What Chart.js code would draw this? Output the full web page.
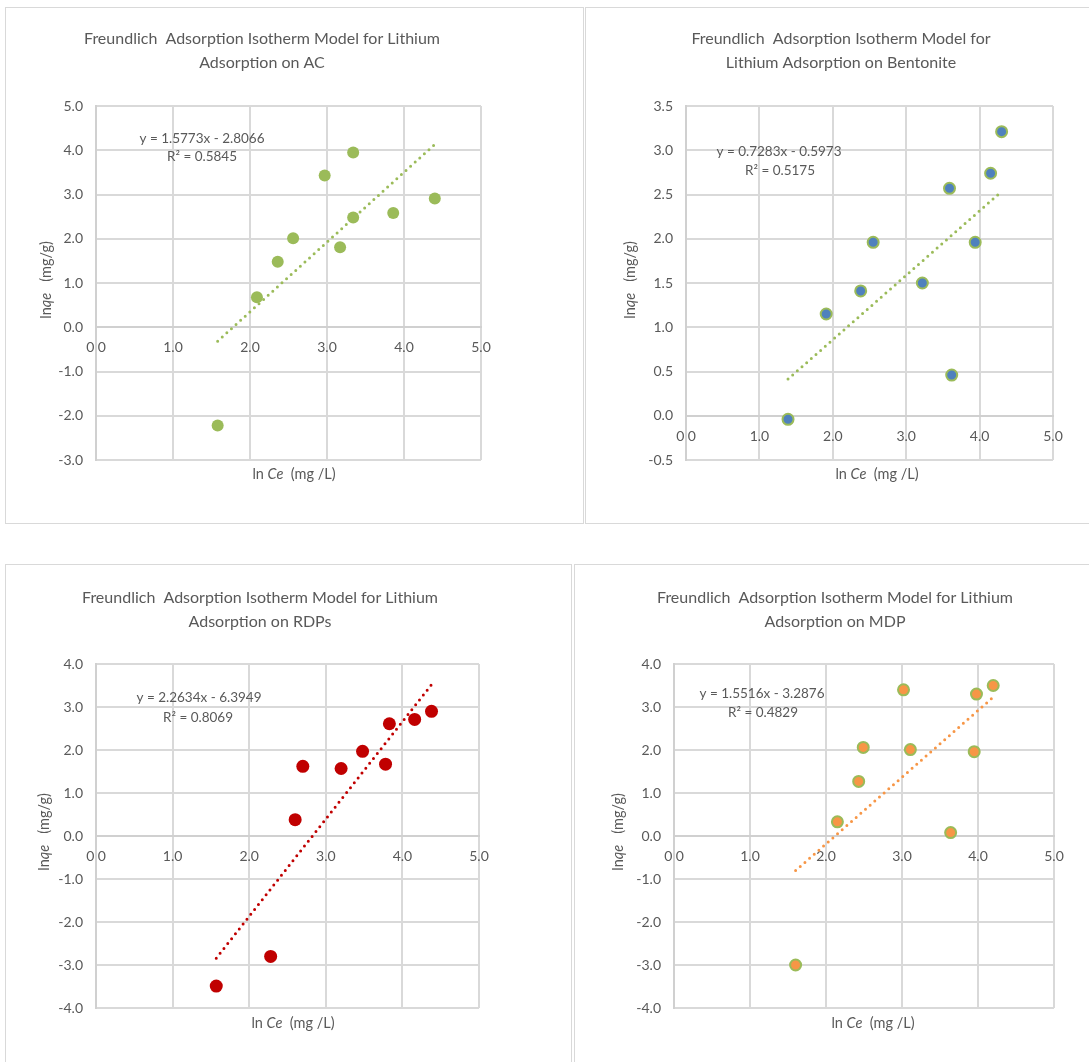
<!DOCTYPE html>
<html>
<head>
<meta charset="utf-8">
<script src="https://cdn.jsdelivr.net/npm/chart.js@4.4.1/dist/chart.umd.min.js"></script>
<style>
  html, body { margin: 0; padding: 0; background: #fff; }
  body { position: relative; width: 1089px; height: 1062px; overflow: hidden; }
  .frame { position: absolute; border: 1px solid #d9d9d9; box-sizing: border-box; }
  canvas { position: absolute; }
</style>
</head>
<body>
<script>
// ln Ce (x) and ln qe (y) for each adsorbent
const acLnCe   = [1.58, 2.09, 2.36, 2.56, 2.97, 3.17, 3.34, 3.34, 3.86, 4.40];
const acLnQe   = [-2.22, 0.68, 1.48, 2.01, 3.43, 1.81, 3.95, 2.48, 2.58, 2.91];
const bentLnCe = [1.39, 1.91, 2.38, 2.55, 3.22, 3.59, 3.62, 3.94, 4.15, 4.30];
const bentLnQe = [-0.04, 1.15, 1.41, 1.96, 1.50, 2.57, 0.46, 1.96, 2.74, 3.21];
const rdpLnCe  = [1.57, 2.28, 2.60, 2.70, 3.20, 3.48, 3.78, 3.83, 4.16, 4.38];
const rdpLnQe  = [-3.49, -2.80, 0.38, 1.62, 1.57, 1.97, 1.67, 2.61, 2.71, 2.90];
const mdpLnCe  = [1.60, 2.15, 2.43, 2.49, 3.02, 3.11, 3.64, 3.95, 3.98, 4.20];
const mdpLnQe  = [-3.00, 0.33, 1.27, 2.06, 3.40, 2.01, 0.08, 1.96, 3.30, 3.50];

// linear Freundlich fits: ln qe = slope * ln Ce + intercept
const slopes     = [1.5773, 0.7283, 2.2634, 1.5516];
const intercepts = [-2.8066, -0.5973, -6.3949, -3.2876];
const rSquared   = ['0.5845', '0.5175', '0.8069', '0.4829'];

// chart titles
const titles = [
  ['Freundlich  Adsorption Isotherm Model for Lithium', 'Adsorption on AC'],
  ['Freundlich  Adsorption Isotherm Model for', 'Lithium Adsorption on Bentonite'],
  ['Freundlich  Adsorption Isotherm Model for Lithium', 'Adsorption on RDPs'],
  ['Freundlich  Adsorption Isotherm Model for Lithium', 'Adsorption on MDP']
];

// axis ranges and tick steps
const xRange = [0, 5];
const xStep = 1;
const yRanges = [[-3, 5], [-0.5, 3.5], [-4, 4], [-4, 4]];
const ySteps = [1, 0.5, 1, 1];

const series = [
  { x: acLnCe, y: acLnQe },
  { x: bentLnCe, y: bentLnQe },
  { x: rdpLnCe, y: rdpLnQe },
  { x: mdpLnCe, y: mdpLnQe }
];

// ---- appearance ----
const FONT = 'Lato, "Open Sans", sans-serif';
const TEXT = '#595959';
const GRID = '#d9d9d9';
const AXIS = '#d0d0d0';
const GREEN = '#9bbb59';

const styles = [
  { fill: GREEN,     border: GREEN, bw: 0, r: 6,   line: GREEN },
  { fill: '#4f81bd', border: GREEN, bw: 2, r: 5.5, line: GREEN },
  { fill: '#c00000', border: '#c00000', bw: 0, r: 6.5, line: '#c00000' },
  { fill: '#f79646', border: GREEN, bw: 2, r: 5.5, line: '#f79646' }
];

// panel frames and plot areas, page pixels
const panels = [
  { x: 5,   y: 7,   w: 579, h: 517, area: { l: 96,  t: 106, r: 481,  b: 460 },
    titleX: 262, titleY: [39, 63], eq: [202, 139], r2: [202, 157], yTitle: [46, 280], xTitle: [294, 474] },
  { x: 585, y: 7,   w: 520, h: 517, area: { l: 686, t: 106, r: 1053, b: 460 },
    titleX: 841, titleY: [39, 63], eq: [779, 152], r2: [780, 171], yTitle: [630, 280], xTitle: [877, 474] },
  { x: 5,   y: 564, w: 567, h: 520, area: { l: 96,  t: 664, r: 479,  b: 1008 },
    titleX: 260, titleY: [598, 622], eq: [199, 698], r2: [198, 718], yTitle: [44, 832], xTitle: [293, 1023] },
  { x: 574, y: 564, w: 530, h: 520, area: { l: 674, t: 664, r: 1054, b: 1008 },
    titleX: 835, titleY: [598, 622], eq: [762, 694], r2: [763, 713], yTitle: [618, 832], xTitle: [873, 1023] }
];

// draws a run of text pieces (some italic) centred on (cx, cy)
function drawRich(ctx, segs, cx, cy, size, angle) {
  ctx.save();
  ctx.translate(cx, cy);
  if (angle) ctx.rotate(angle);
  ctx.textBaseline = 'middle';
  ctx.textAlign = 'left';
  ctx.fillStyle = TEXT;
  const fonts = segs.map(s => (s.i ? 'italic ' : '') + size + 'px ' + FONT);
  let total = 0;
  const widths = segs.map((s, k) => { ctx.font = fonts[k]; const w = ctx.measureText(s.t).width; total += w; return w; });
  let x = -total / 2;
  segs.forEach((s, k) => { ctx.font = fonts[k]; ctx.fillText(s.t, x, 0); x += widths[k]; });
  ctx.restore();
}

function fmtNum(v) { return v.toFixed(4); }
function equationText(k) {
  const b = intercepts[k];
  return 'y = ' + fmtNum(slopes[k]) + 'x ' + (b < 0 ? '- ' : '+ ') + fmtNum(Math.abs(b));
}

function textPlugin(k) {
  const p = panels[k];
  return {
    id: 'panelText' + k,
    afterDraw(chart) {
      const ctx = chart.ctx;
      titles[k].forEach((line, i) => drawRich(ctx, [{ t: line }], p.titleX - p.x, p.titleY[i] - p.y, 16));
      drawRich(ctx, [{ t: equationText(k) }], p.eq[0] - p.x, p.eq[1] - p.y, 13.5);
      drawRich(ctx, [{ t: 'R² = ' + rSquared[k] }], p.r2[0] - p.x, p.r2[1] - p.y, 13.5);
      drawRich(ctx, [{ t: 'ln' }, { t: 'qe', i: true }, { t: '   (mg/g)' }],
               p.yTitle[0] - p.x, p.yTitle[1] - p.y, 14.5, -Math.PI / 2);
      drawRich(ctx, [{ t: 'ln ' }, { t: 'Ce', i: true }, { t: '  (mg /L)' }],
               p.xTitle[0] - p.x, p.xTitle[1] - p.y, 14.5);
    }
  };
}

function build(k) {
  const p = panels[k];
  const st = styles[k];

  const frame = document.createElement('div');
  frame.className = 'frame';
  Object.assign(frame.style, { left: p.x + 'px', top: p.y + 'px', width: p.w + 'px', height: p.h + 'px' });
  document.body.appendChild(frame);

  const canvas = document.createElement('canvas');
  canvas.width = p.w; canvas.height = p.h;
  Object.assign(canvas.style, { left: p.x + 'px', top: p.y + 'px', width: p.w + 'px', height: p.h + 'px' });
  document.body.appendChild(canvas);

  const yAxisWidth = 60;
  const padding = {
    left: p.area.l - p.x - yAxisWidth,
    top: p.area.t - p.y,
    right: p.x + p.w - p.area.r,
    bottom: p.y + p.h - p.area.b
  };

  const xs = series[k].x, ys = series[k].y;
  const points = xs.map((v, i) => ({ x: v, y: ys[i] }));
  const xLo = Math.min(...xs), xHi = Math.max(...xs);
  const fitLine = [xLo, xHi].map(v => ({ x: v, y: slopes[k] * v + intercepts[k] }));

  const tickFont = { family: FONT, size: 14 };

  new Chart(canvas, {
    type: 'scatter',
    data: {
      datasets: [
        {
          data: points,
          pointRadius: st.r,
          pointHoverRadius: st.r,
          pointBackgroundColor: st.fill,
          pointBorderColor: st.border,
          pointBorderWidth: st.bw
        },
        {
          data: fitLine,
          showLine: true,
          pointRadius: 0,
          borderColor: st.line,
          borderWidth: 3,
          borderDash: [0, 6.2],
          borderCapStyle: 'round',
          fill: false
        }
      ]
    },
    options: {
      responsive: false,
      animation: false,
      events: [],
      layout: { padding },
      plugins: { legend: { display: false }, tooltip: { enabled: false }, title: { display: false } },
      scales: {
        x: {
          type: 'linear',
          position: { y: 0 },
          min: xRange[0], max: xRange[1],
          ticks: { stepSize: xStep, callback: v => v.toFixed(1), color: TEXT, font: tickFont, padding: 12, maxRotation: 0 },
          grid: { color: GRID, lineWidth: 2, drawTicks: false },
          border: { color: AXIS, width: 2 }
        },
        y: {
          type: 'linear',
          position: 'left',
          min: yRanges[k][0], max: yRanges[k][1],
          ticks: { stepSize: ySteps[k], callback: v => v.toFixed(1), color: TEXT, font: tickFont, padding: 13 },
          grid: { color: GRID, lineWidth: 2, drawTicks: false },
          border: { color: AXIS, width: 2 },
          afterFit(scale) { scale.width = yAxisWidth; }
        }
      }
    },
    plugins: [textPlugin(k)]
  });
}

for (let k = 0; k < 4; k++) build(k);
</script>
</body>
</html>
